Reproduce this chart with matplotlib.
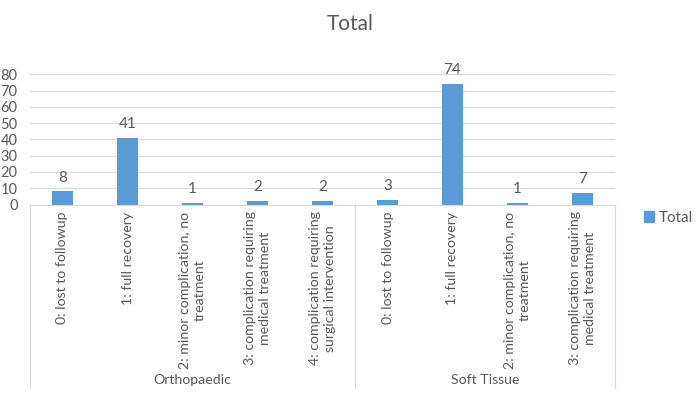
import matplotlib
matplotlib.use("Agg")
import matplotlib.pyplot as plt
from matplotlib.lines import Line2D
from matplotlib.patches import Patch
from matplotlib.transforms import blended_transform_factory

plt.rcParams['font.family'] = ['Lato', 'DejaVu Sans']

categories = [
    "0: lost to followup",
    "1: full recovery",
    "2: minor complication, no\ntreatment",
    "3: complication requiring\nmedical treatment",
    "4: complication requiring\nsurgical intervention",
    "0: lost to followup",
    "1: full recovery",
    "2: minor complication, no\ntreatment",
    "3: complication requiring\nmedical treatment",
]
groups = ["Orthopaedic", "Soft Tissue"]
group_sizes = [5, 4]
values = [8, 41, 1, 2, 2, 3, 74, 1, 7]
yticks = [0, 10, 20, 30, 40, 50, 60, 70, 80]

TXT = '#595959'
GRID = '#D9D9D9'
BAR = '#5B9BD5'

fig = plt.figure(figsize=(7.0, 3.95), dpi=100)
ax = fig.add_axes([30/700, 1-204.5/395, 585/700, 130.2/395])

x = list(range(len(values)))
bars = ax.bar(x, values, width=0.31, color=BAR, zorder=3)
ax.bar_label(bars, labels=[str(v) for v in values], padding=5, color=TXT, fontsize=11)

ax.set_xlim(-0.5, len(values) - 0.5)
ax.set_ylim(0, 80)
ax.set_yticks(yticks)
ax.set_yticklabels([str(t) for t in yticks], color=TXT, fontsize=10.5)
ax.tick_params(axis='y', length=0, pad=9)
ax.grid(axis='y', color=GRID, linewidth=0.8, zorder=0)
ax.set_axisbelow(True)

ax.set_xticks(x)
ax.set_xticklabels(categories, rotation=90, color=TXT, fontsize=10.2,
                   multialignment='center', linespacing=1.3)
ax.tick_params(axis='x', length=0, pad=5)

for s in ['top', 'right', 'left']:
    ax.spines[s].set_visible(False)
ax.spines['bottom'].set_color(GRID)
ax.spines['bottom'].set_linewidth(0.8)

# group separators and labels
tr = blended_transform_factory(ax.transData, fig.transFigure)
y_top = 1 - 204.5/395
y_bot = 1 - 388/395
start = -0.5
bounds = [start]
for gs in group_sizes:
    start += gs
    bounds.append(start)
for b in bounds:
    fig.add_artist(Line2D([b, b], [y_top, y_bot], transform=tr, color=GRID, linewidth=0.8))
for g, a, b in zip(groups, bounds[:-1], bounds[1:]):
    fig.text((a + b) / 2, 1 - 380/395, g, transform=tr, ha='center', va='center',
             color=TXT, fontsize=10.2)

fig.text(350/700, 1 - 24/395, "Total", ha='center', va='center', color=TXT, fontsize=15)

fig.legend(handles=[Patch(color=BAR, label='Total')], loc='center left',
           bbox_to_anchor=(630/700, 1 - 218/395), frameon=False, fontsize=11,
           handlelength=0.7, handleheight=0.7, handletextpad=0.3, labelcolor=TXT)

fig.savefig("out.png", dpi=100)
